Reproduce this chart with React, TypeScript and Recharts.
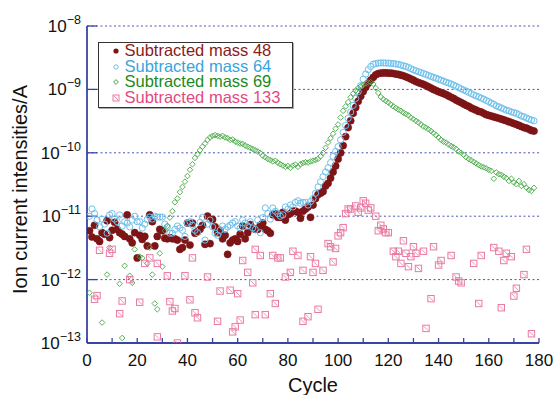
import React from 'react';
import { ScatterChart, Scatter, XAxis, YAxis, CartesianGrid } from 'recharts';

const FONT = '"Liberation Sans", Arial, Helvetica, sans-serif';
const FRAME = '#3a44a6';
const GRID = '#4a54b4';

const C48 = '#7d1416';
const C64 = '#6ec1ec';
const C69 = '#45a845';
const C133 = '#e97aa3';

const seriesNames = ['Subtracted mass 48', 'Subtracted mass 64', 'Subtracted mass 69', 'Subtracted mass 133'];
const legendTextColors = ['#8b1a1a', '#3aa3dd', '#1b8a1b', '#e24a82'];

const xTicksMinor = [0, 10, 20, 30, 40, 50, 60, 70, 80, 90, 100, 110, 120, 130, 140, 150, 160, 170, 180];
const xTickLabels = [0, 20, 40, 60, 80, 100, 120, 140, 160, 180];
const yTicks = [1e-13, 1e-12, 1e-11, 1e-10, 1e-9, 1e-8];
const yTickExponents = ['\u221213', '\u221212', '\u221211', '\u221210', '\u22129', '\u22128'];

const cycles = Array.from({ length: 178 }, (_, i) => i + 1);

const mass48 = [
  5.9e-12, 4.7e-12, 7.2e-12, 4.4e-12, 4.0e-12, 5.5e-12, 5.2e-12, 8.5e-12, 4.6e-12, 6.0e-12,
  8.0e-12, 6.2e-12, 5.5e-12, 5.2e-12, 4.8e-12, 1.05e-11, 4.4e-12, 3.8e-12, 5.5e-12, 2.2e-12,
  5.0e-12, 4.3e-12, 4.8e-12, 3.4e-12, 1.05e-11, 8.2e-12, 3.4e-12, 4.8e-12, 6.2e-12, 5.9e-12,
  4.5e-12, 4.4e-12, 4.6e-12, 4.4e-12, 4.4e-12, 4.2e-12, 3.0e-12, 3.2e-12, 4.2e-12, 7.8e-12,
  3.5e-12, 7.8e-12, 5.4e-12, 5.7e-12, 6.2e-12, 7.2e-12, 3.6e-12, 1.0e-11, 3.7e-12, 8.9e-12,
  6.8e-12, 5.5e-12, 6.0e-12, 4.4e-12, 5.0e-12, 2.5e-12, 3.8e-12, 4.2e-12, 4.4e-12, 4.0e-12,
  5.2e-12, 7.0e-12, 4.4e-12, 5.5e-12, 7.4e-12, 6.5e-12, 6.2e-12, 6.2e-12, 7.2e-12, 7.8e-12,
  6.2e-12, 5.9e-12, 5.4e-12, 1.05e-11, 1.1e-11, 9.6e-12, 9.6e-12, 1.15e-11, 8.7e-12, 1.05e-11,
  1.1e-11, 1.2e-11, 1.2e-11, 1.15e-11, 9.3e-12, 1.2e-11, 1.3e-11, 1.4e-11, 9.6e-12, 1.5e-11,
  1.9e-11, 2.2e-11, 2.3e-11, 2.45e-11, 3.0e-11, 3.3e-11, 4.0e-11, 5.0e-11, 6.2e-11, 8.0e-11,
  1.0e-10, 1.3e-10, 1.8e-10, 2.5e-10, 3.2e-10, 4.2e-10, 5.2e-10, 6.5e-10, 7.8e-10, 9.3e-10,
  1.08e-9, 1.25e-9, 1.4e-9, 1.55e-9, 1.7e-9, 1.78e-9, 1.8e-9, 1.82e-9, 1.82e-9, 1.8e-9,
  1.8e-9, 1.78e-9, 1.75e-9, 1.72e-9, 1.68e-9, 1.64e-9, 1.58e-9, 1.52e-9, 1.46e-9, 1.4e-9,
  1.33e-9, 1.28e-9, 1.24e-9, 1.2e-9, 1.15e-9, 1.1e-9, 1.05e-9, 1.0e-9, 9.6e-10, 9.2e-10,
  8.9e-10, 8.6e-10, 8.3e-10, 7.9e-10, 7.5e-10, 7.2e-10, 6.8e-10, 6.5e-10, 6.2e-10, 5.9e-10,
  5.6e-10, 5.4e-10, 5.1e-10, 4.9e-10, 4.7e-10, 4.5e-10, 4.4e-10, 4.2e-10, 4.0e-10, 3.9e-10,
  3.8e-10, 3.7e-10, 3.6e-10, 3.5e-10, 3.4e-10, 3.3e-10, 3.2e-10, 3.1e-10, 3.0e-10, 2.9e-10,
  2.8e-10, 2.7e-10, 2.6e-10, 2.5e-10, 2.45e-10, 2.35e-10, 2.25e-10, 2.2e-10,
];

const mass64 = [
  1.0e-11, 1.3e-11, 1.1e-11, 8.7e-12, 6.8e-12, 9.0e-12, 7.5e-12, 5.4e-12, 1.05e-11, 1.1e-11,
  9.0e-12, 8.2e-12, 1.05e-11, 7.0e-12, 8.2e-12, 7.8e-12, 6.8e-12, 8.7e-12, 1.0e-11, 8.2e-12,
  8.2e-12, 6.5e-12, 7.5e-12, 8.9e-12, 9.7e-12, 9.0e-12, 1.0e-11, 9.7e-12, 9.7e-12, 9.7e-12,
  7.5e-12, 6.8e-12, 5.4e-12, 5.4e-12, 6.2e-12, 7.0e-12, 6.5e-12, 6.0e-12, 4.8e-12, 7.8e-12,
  8.2e-12, 7.2e-12, 6.0e-12, 5.5e-12, 8.0e-12, 9.6e-12, 4.2e-12, 7.5e-12, 8.7e-12, 6.8e-12,
  5.4e-12, 5.0e-12, 6.0e-12, 7.0e-12, 6.2e-12, 6.8e-12, 7.2e-12, 7.8e-12, 8.2e-12, 7.0e-12,
  6.5e-12, 8.7e-12, 7.8e-12, 7.0e-12, 8.2e-12, 6.5e-12, 6.2e-12, 8.7e-12, 5.5e-12, 9.5e-12,
  1.35e-11, 1.1e-11, 9.0e-12, 1.35e-11, 1.2e-11, 1.1e-11, 1.0e-11, 1.05e-11, 1.4e-11, 1.3e-11,
  1.5e-11, 1.4e-11, 1.65e-11, 1.75e-11, 1.6e-11, 1.65e-11, 1.65e-11, 1.5e-11, 1.7e-11, 1.9e-11,
  2.3e-11, 2.9e-11, 3.5e-11, 4.2e-11, 5.0e-11, 5.8e-11, 7.0e-11, 8.8e-11, 1.05e-10, 1.25e-10,
  1.6e-10, 2.1e-10, 2.7e-10, 3.5e-10, 4.4e-10, 5.6e-10, 7.2e-10, 9.2e-10, 1.15e-9, 1.45e-9,
  1.75e-9, 2.05e-9, 2.3e-9, 2.5e-9, 2.55e-9, 2.6e-9, 2.62e-9, 2.62e-9, 2.6e-9, 2.6e-9,
  2.58e-9, 2.55e-9, 2.52e-9, 2.48e-9, 2.42e-9, 2.36e-9, 2.3e-9, 2.22e-9, 2.12e-9, 2.04e-9,
  1.96e-9, 1.9e-9, 1.84e-9, 1.78e-9, 1.72e-9, 1.66e-9, 1.6e-9, 1.55e-9, 1.5e-9, 1.45e-9,
  1.4e-9, 1.35e-9, 1.3e-9, 1.26e-9, 1.22e-9, 1.17e-9, 1.12e-9, 1.07e-9, 1.02e-9, 9.8e-10,
  9.4e-10, 9.0e-10, 8.6e-10, 8.2e-10, 7.9e-10, 7.6e-10, 7.3e-10, 7.0e-10, 6.7e-10, 6.4e-10,
  6.1e-10, 5.8e-10, 5.5e-10, 5.3e-10, 5.1e-10, 4.9e-10, 4.7e-10, 4.6e-10, 4.4e-10, 4.3e-10,
  4.2e-10, 4.0e-10, 3.8e-10, 3.7e-10, 3.55e-10, 3.4e-10, 3.3e-10, 3.2e-10,
];

const mass69 = [
  6.2e-13, null, null, null, null, 2.1e-13, null, 1.2e-12, 3.2e-12, null,
  null, null, 8.6e-13, 1.2e-13, 1.65e-12, null, 1.15e-12, 8.9e-13, 3.0e-12, null,
  2.3e-12, 2.2e-12, null, 1.8e-12, 3.2e-12, 1.2e-12, 4.2e-13, 3.4e-13, 2.6e-12, 1.6e-12,
  5.9e-12, 7.0e-12, 9.5e-12, 1.2e-11, 1.66e-11, 1.9e-11, 2.4e-11, 2.9e-11, 3.5e-11, 4.3e-11,
  5.4e-11, 6.6e-11, 8.3e-11, 9.5e-11, 1.1e-10, 1.25e-10, 1.4e-10, 1.6e-10, 1.75e-10, 1.85e-10,
  1.9e-10, 1.85e-10, 1.8e-10, 1.85e-10, 1.75e-10, 1.7e-10, 1.6e-10, 1.62e-10, 1.5e-10, 1.45e-10,
  1.4e-10, 1.38e-10, 1.3e-10, 1.25e-10, 1.2e-10, 1.15e-10, 1.1e-10, 1.05e-10, 1.0e-10, 9.0e-11,
  8.5e-11, 8.0e-11, 7.7e-11, 7.3e-11, 7.5e-11, 7.0e-11, 6.6e-11, 6.3e-11, 6.0e-11, 6.2e-11,
  5.8e-11, 6.3e-11, 6.5e-11, 6.0e-11, 6.6e-11, 6.9e-11, 7.1e-11, 7.0e-11, 7.3e-11, 7.5e-11,
  7.7e-11, 8.0e-11, 8.8e-11, 1.0e-10, 1.2e-10, 1.45e-10, 1.7e-10, 2.0e-10, 2.4e-10, 2.8e-10,
  3.6e-10, 4.6e-10, 5.4e-10, 6.3e-10, 7.5e-10, 8.6e-10, 9.6e-10, 1.05e-9, 1.12e-9, 1.18e-9,
  1.24e-9, 1.28e-9, 1.3e-9, 1.22e-9, 1.05e-9, 8.8e-10, 7.6e-10, 7.0e-10, 6.6e-10, 6.2e-10,
  5.8e-10, 5.4e-10, 5.1e-10, 4.8e-10, 4.6e-10, 4.3e-10, 4.1e-10, 3.9e-10, 3.6e-10, 3.4e-10,
  3.2e-10, 3.0e-10, 2.8e-10, 2.6e-10, 2.5e-10, 2.35e-10, 2.2e-10, 2.05e-10, 1.9e-10, 1.75e-10,
  1.6e-10, 1.5e-10, 1.45e-10, 1.35e-10, 1.28e-10, 1.22e-10, 1.15e-10, 1.05e-10, 1.0e-10, 9.3e-11,
  8.5e-11, 8.0e-11, 7.6e-11, 7.2e-11, 6.8e-11, 6.4e-11, 6.1e-11, 5.9e-11, 5.7e-11, 5.4e-11,
  5.2e-11, 3.9e-11, 4.9e-11, 4.6e-11, 4.5e-11, 4.2e-11, 4.0e-11, 3.6e-11, 3.9e-11, 3.4e-11,
  3.2e-11, 3.6e-11, 3.0e-11, 3.2e-11, 2.8e-11, 2.6e-11, 2.5e-11, 2.8e-11,
];

const mass133Cycles = [
  3, 4, 5, 9, 10, 13, 14, 17, 21, 23, 25, 28, 28, 32, 33, 34, 35, 36, 39, 41,
  42, 43, 44, 48, 52, 53, 57, 58, 59, 60, 61, 62, 64, 66, 67, 67, 69, 71, 73, 74,
  75, 76, 77, 79, 81, 82, 84, 86, 86, 88, 89, 90, 91, 92, 94, 96, 97, 98, 99, 100,
  101, 102, 103, 104, 105, 107, 108, 109, 110, 111, 112, 113, 115, 116, 117, 118, 119, 120, 122, 123,
  124, 125, 126, 127, 128, 129, 130, 131, 132, 134, 135, 137, 138, 140, 141, 145, 147, 148, 149, 154,
  156, 157, 162, 164, 165, 166, 167, 169, 170, 171, 174, 175, 177,
];
const mass133Values = [
  4.9e-13, 5.6e-13, 2.9e-12, 2.6e-12, 3.0e-12, 2.9e-13, 4.6e-13, 1.0e-12, 4.4e-13, 1.8e-12,
  2.2e-12, 1.25e-13, 1.8e-12, 1.15e-12, 4.5e-13, 3.2e-13, 3.5e-13, 1.0e-13, 1.15e-12, 4.8e-13,
  2.2e-12, 3.0e-13, 2.5e-13, 1.1e-12, 2.2e-13, 6.6e-13, 6.8e-13, 1.5e-13, 1.8e-13, 6.0e-13,
  2.3e-13, 2.0e-12, 1.3e-12, 8.9e-13, 3.0e-12, 2.8e-13, 2.4e-12, 2.8e-13, 6.0e-13, 2.4e-12,
  4.2e-13, 2.2e-12, 2.2e-12, 1.1e-12, 1.3e-12, 2.8e-12, 2.4e-12, 2.2e-13, 1.4e-12, 2.6e-13,
  2.3e-12, 1.3e-12, 1.8e-12, 3.4e-13, 1.4e-12, 3.7e-12, 3.3e-12, 1.9e-12, 3.1e-12, 4.9e-12,
  5.5e-12, 6.6e-12, 1.1e-11, 1.3e-11, 1.3e-11, 1.45e-11, 1.15e-11, 1.35e-11, 1.75e-11, 1.6e-11,
  1.25e-11, 1.35e-11, 1.0e-11, 5.9e-12, 7.2e-12, 6.3e-12, 5.5e-12, 5.5e-12, 2.8e-12, 2.3e-12,
  2.8e-12, 1.8e-12, 4.1e-12, 2.6e-12, 1.6e-12, 2.3e-12, 3.3e-12, 2.6e-12, 1.5e-12, 2.8e-12,
  1.7e-13, 5.0e-13, 3.3e-12, 1.7e-12, 2.0e-12, 2.4e-12, 1.1e-12, 9.5e-13, 8.9e-13, 1.8e-12,
  4.2e-13, 2.4e-12, 3.2e-12, 2.8e-12, 3.6e-13, 2.0e-12, 2.6e-12, 2.3e-12, 5.5e-13, 7.3e-13,
  1.2e-12, 3.0e-12, 1.4e-13,
];

type Pt = { x: number; y: number };
const toPoints = (xs: number[], ys: (number | null)[]): Pt[] => {
  const out: Pt[] = [];
  ys.forEach((v, i) => {
    if (v != null && xs[i] != null) out.push({ x: xs[i], y: v });
  });
  return out;
};

const data48 = toPoints(cycles, mass48);
const data64 = toPoints(cycles, mass64);
const data69 = toPoints(cycles, mass69);
const data133 = toPoints(mass133Cycles, mass133Values);

const DotShape = (p: any) => <circle cx={p.cx} cy={p.cy} r={3.6} fill={C48} stroke={C48} strokeWidth={0.5} />;
const CircleShape = (p: any) => <circle cx={p.cx} cy={p.cy} r={3.1} fill="none" stroke={C64} strokeWidth={1} />;
const DiamondShape = (p: any) => {
  const s = 2.8;
  return (
    <path
      d={`M${p.cx},${p.cy - s}L${p.cx + s},${p.cy}L${p.cx},${p.cy + s}L${p.cx - s},${p.cy}Z`}
      fill="none"
      stroke={C69}
      strokeWidth={0.9}
    />
  );
};
const SquareShape = (p: any) => {
  const h = 3.2;
  return (
    <g>
      <rect x={p.cx - h} y={p.cy - h} width={2 * h} height={2 * h} fill="none" stroke={C133} strokeWidth={1} />
      <line x1={p.cx - h + 1} y1={p.cy - h + 1} x2={p.cx + h - 1} y2={p.cy + h - 1} stroke={C133} strokeWidth={0.8} />
    </g>
  );
};

const XTick = (props: any) => {
  const { x, y, payload } = props;
  if (!xTickLabels.includes(payload.value)) return <g />;
  return (
    <text x={x} y={y + 28} textAnchor="middle" fontSize={17} fontFamily={FONT} fill="#111">
      {payload.value}
    </text>
  );
};

const YTick = (props: any) => {
  const { x, y, payload } = props;
  const idx = yTicks.findIndex((t) => Math.abs(Math.log10(t) - Math.log10(payload.value)) < 0.01);
  const exp = idx >= 0 ? yTickExponents[idx] : '';
  return (
    <text x={x - 16} y={y + 6} textAnchor="end" fontSize={17} fontFamily={FONT} fill="#111">
      <tspan>10</tspan>
      <tspan dy={-8} fontSize={12.5}>{exp}</tspan>
    </text>
  );
};

const XLabel = (props: any) => {
  const vb = props.viewBox || { x: 87, y: 343, width: 452, height: 52 };
  return (
    <text x={vb.x + vb.width / 2} y={vb.y + 49} textAnchor="middle" fontSize={20} fontFamily={FONT} fill="#111">
      Cycle
    </text>
  );
};

const YLabel = (props: any) => {
  const vb = props.viewBox || { x: 0, y: 26, width: 87, height: 317 };
  const cx = vb.x + 27;
  const cy = vb.y + vb.height / 2 + 5;
  return (
    <text x={cx} y={cy} transform={`rotate(-90 ${cx} ${cy})`} textAnchor="middle" fontSize={20} fontFamily={FONT} fill="#111">
      Ion current intensities/A
    </text>
  );
};

const LegendMarker = ({ i }: { i: number }) => {
  if (i === 0) return <circle cx={5} cy={5} r={2.6} fill={C48} />;
  if (i === 1) return <circle cx={5} cy={5} r={2.2} fill="none" stroke={C64} strokeWidth={1} />;
  if (i === 2) return <path d="M5,2.6L7.4,5L5,7.4L2.6,5Z" fill="none" stroke={C69} strokeWidth={1} />;
  return (
    <g>
      <rect x={2} y={2} width={6} height={6} fill="none" stroke={C133} strokeWidth={1} />
      <line x1={2.8} y1={2.8} x2={7.2} y2={7.2} stroke={C133} strokeWidth={0.9} />
    </g>
  );
};

export default function App() {
  return (
    <div style={{ position: 'absolute', left: 0, top: 0, width: 558, height: 395, background: '#fff' }}>
      <ScatterChart width={558} height={395} margin={{ top: 26, right: 19, bottom: 0, left: 0 }}>
        <CartesianGrid vertical={false} stroke={GRID} strokeDasharray="2 2.5" strokeWidth={1} />
        <XAxis
          type="number"
          dataKey="x"
          domain={[0, 180]}
          ticks={xTicksMinor}
          interval={0}
          height={52}
          tickSize={-5}
          tickMargin={0}
          tick={<XTick />}
          axisLine={{ stroke: FRAME, strokeWidth: 1.8 }}
          tickLine={{ stroke: FRAME, strokeWidth: 1.3 }}
          allowDataOverflow
          label={<XLabel />}
        />
        <XAxis
          xAxisId="top"
          orientation="top"
          type="number"
          domain={[0, 180]}
          ticks={xTicksMinor}
          interval={0}
          height={0}
          tickSize={-7}
          tick={false}
          axisLine={{ stroke: FRAME, strokeWidth: 1.6 }}
          tickLine={{ stroke: FRAME, strokeWidth: 1.3 }}
          allowDataOverflow
        />
        <YAxis
          type="number"
          dataKey="y"
          scale="log"
          domain={[1e-13, 1e-8]}
          ticks={yTicks}
          interval={0}
          width={87}
          tickSize={-10}
          tickMargin={0}
          tick={<YTick />}
          axisLine={{ stroke: FRAME, strokeWidth: 1.8 }}
          tickLine={{ stroke: FRAME, strokeWidth: 1.3 }}
          allowDataOverflow
          label={<YLabel />}
        />
        <YAxis
          yAxisId="right"
          orientation="right"
          type="number"
          scale="log"
          domain={[1e-13, 1e-8]}
          ticks={yTicks}
          interval={0}
          width={0}
          tickSize={-9}
          tick={false}
          axisLine={{ stroke: FRAME, strokeWidth: 1.6 }}
          tickLine={{ stroke: FRAME, strokeWidth: 1.3 }}
          allowDataOverflow
        />
        <Scatter name={seriesNames[0]} data={data48} shape={DotShape} isAnimationActive={false} />
        <Scatter name={seriesNames[1]} data={data64} shape={CircleShape} isAnimationActive={false} />
        <Scatter name={seriesNames[2]} data={data69} shape={DiamondShape} isAnimationActive={false} />
        <Scatter name={seriesNames[3]} data={data133} shape={SquareShape} isAnimationActive={false} />
      </ScatterChart>
      <div
        style={{
          position: 'absolute',
          left: 98,
          top: 42,
          width: 195,
          height: 66,
          border: '1.5px solid #333',
          boxShadow: '1px 1px 0 #aaa',
          boxSizing: 'border-box',
          background: '#fff',
          fontFamily: FONT,
          fontSize: 16.5,
          lineHeight: '15.6px',
        }}
      >
        {seriesNames.map((name, i) => (
          <div key={name} style={{ position: 'absolute', left: 0, top: i * 15.6, height: 15.6, width: 190 }}>
            <svg width={10} height={10} style={{ position: 'absolute', left: 11.5, top: 3 }}>
              <LegendMarker i={i} />
            </svg>
            <div
              style={{
                position: 'absolute',
                left: 25.5,
                top: 0,
                height: 15.6,
                lineHeight: '15.6px',
                overflow: 'visible',
                color: legendTextColors[i],
                whiteSpace: 'nowrap',
              }}
            >
              {name}
            </div>
          </div>
        ))}
      </div>
    </div>
  );
}
